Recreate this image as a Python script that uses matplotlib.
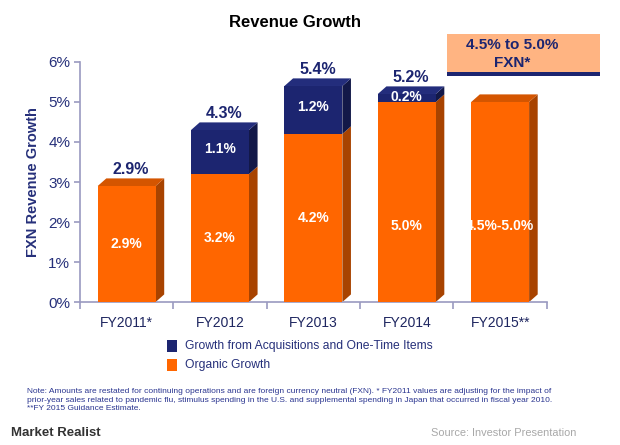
import matplotlib
matplotlib.use("Agg")
import matplotlib.pyplot as plt
from matplotlib.patches import Polygon, Rectangle

plt.rcParams["font.family"] = ["Liberation Sans", "DejaVu Sans"]

categories = ["FY2011*", "FY2012", "FY2013", "FY2014", "FY2015**"]
organic = [2.9, 3.2, 4.2, 5.0, 5.0]
acquisitions = [0.0, 1.1, 1.2, 0.2, 0.0]
organic_labels = ["2.9%", "3.2%", "4.2%", "5.0%", "4.5%-5.0%"]
acq_labels = ["", "1.1%", "1.2%", "0.2%", ""]
total_labels = ["2.9%", "4.3%", "5.4%", "5.2%", ""]
yticks = [0, 1, 2, 3, 4, 5, 6]
ytick_labels = ["0%", "1%", "2%", "3%", "4%", "5%", "6%"]

NAVY = "#1C2570"
NAVY_SIDE = "#121848"
NAVY_TOP = "#232D7C"
ORANGE = "#FF6600"
ORANGE_SIDE = "#A84300"
ORANGE_TOP = "#D45500"
AXIS = "#9A9AC0"
TEXT = "#26307A"

fig = plt.figure(figsize=(6.2, 4.45), dpi=100)
ax = fig.add_axes([0.129, 0.3213, 0.753, 0.5394])
ax.set_xlim(-0.5, 4.5)
ax.set_ylim(0, 6)

w = 0.62
dx = 0.092
dy = 0.19


def box3d(x, y0, y1, front, side, top, draw_top=True):
    left = x - w / 2
    right = x + w / 2
    ax.add_patch(Rectangle((left, y0), w, y1 - y0, facecolor=front, edgecolor="none", zorder=3))
    ax.add_patch(Polygon([(right, y0), (right + dx, y0 + dy), (right + dx, y1 + dy), (right, y1)],
                         closed=True, facecolor=side, edgecolor="none", zorder=2))
    if draw_top:
        ax.add_patch(Polygon([(left, y1), (left + dx, y1 + dy), (right + dx, y1 + dy), (right, y1)],
                             closed=True, facecolor=top, edgecolor="none", zorder=2))


for i, (o, a) in enumerate(zip(organic, acquisitions)):
    box3d(i, 0, o, ORANGE, ORANGE_SIDE, ORANGE_TOP, draw_top=(a == 0))
    if a > 0:
        box3d(i, o, o + a, NAVY, NAVY_SIDE, NAVY_TOP)
    ypos = o / 2 if o < 5 else 1.9
    ax.text(i, ypos, organic_labels[i], ha="center", va="center", color="white",
            fontsize=10, fontweight="bold", zorder=5)
    if acq_labels[i]:
        ax.text(i, o + a / 2 + (0.07 if a > 0.5 else 0.03), acq_labels[i], ha="center", va="center",
                color="white", fontsize=10, fontweight="bold", zorder=5)
    if total_labels[i]:
        ax.text(i + dx / 2, o + a + 0.42, total_labels[i], ha="center", va="center",
                color=NAVY, fontsize=11.5, fontweight="bold", zorder=5)

# Axes styling
for s in ["top", "right"]:
    ax.spines[s].set_visible(False)
ax.spines["left"].set_color(AXIS)
ax.spines["bottom"].set_color(AXIS)
ax.spines["left"].set_linewidth(1.2)
ax.spines["bottom"].set_linewidth(1.2)
ax.set_yticks(yticks)
ax.set_yticklabels(ytick_labels, color=TEXT, fontsize=11)
ax.tick_params(axis="y", colors=AXIS, length=4, width=1.2, labelcolor=TEXT, pad=3)
ax.set_xticks([k - 0.5 for k in range(len(categories) + 1)])
ax.set_xticklabels([])
ax.set_xticks(list(range(len(categories))), minor=True)
ax.set_xticklabels(categories, minor=True, color="#1E2660", fontsize=10)
ax.tick_params(axis="x", which="major", colors=AXIS, length=5, width=1.2)
ax.tick_params(axis="x", which="minor", length=0, pad=10, labelcolor="#1E2660")
ax.set_ylabel("FXN Revenue Growth", color=TEXT, fontsize=10.5, fontweight="bold")
ax.yaxis.set_label_coords(-0.086, 0.5)

# Title
fig.text(0.476, 0.949, "Revenue Growth", ha="center", va="center", fontsize=12,
         fontweight="bold", color="black")

# Guidance box
fig.patches.append(Rectangle((447 / 620, 1 - 72 / 445), 153 / 620, 38 / 445,
                             transform=fig.transFigure, facecolor="#FFB482", edgecolor="none"))
fig.patches.append(Rectangle((447 / 620, 1 - 76 / 445), 153 / 620, 4 / 445,
                             transform=fig.transFigure, facecolor=NAVY, edgecolor="none"))
fig.text(512 / 620, 1 - 54 / 445, "4.5% to 5.0%\nFXN*", ha="center", va="center",
         fontsize=11, fontweight="bold", color=NAVY, linespacing=1.3)

# Legend
fig.patches.append(Rectangle((167 / 620, 1 - 352 / 445), 10 / 620, 12 / 445,
                             transform=fig.transFigure, facecolor=NAVY, edgecolor="none"))
fig.patches.append(Rectangle((167 / 620, 1 - 371 / 445), 10 / 620, 12 / 445,
                             transform=fig.transFigure, facecolor=ORANGE, edgecolor="none"))
fig.text(185 / 620, 1 - 346 / 445, "Growth from Acquisitions and One-Time Items",
         ha="left", va="center", fontsize=8.7, color=TEXT)
fig.text(185 / 620, 1 - 365 / 445, "Organic Growth", ha="left", va="center",
         fontsize=8.7, color=TEXT)

# Note
note = ("Note: Amounts are restated for continuing operations and are foreign currency neutral (FXN). "
        "* FY2011 values are adjusting for the impact of\n"
        "prior-year sales related to pandemic flu, stimulus spending in the U.S. and supplemental "
        "spending in Japan that occurred in fiscal year 2010.\n"
        "**FY 2015 Guidance Estimate.")
fig.text(27 / 620, 1 - 400 / 445, note, ha="left", va="center", fontsize=6.05,
         color="#2A3590", linespacing=1.25)

# Footer
fig.text(11 / 620, 1 - 433 / 445, "Market Realist", ha="left", va="center", fontsize=9.5,
         color="#333333", fontweight="bold")
fig.text(576 / 620, 1 - 433 / 445, "Source: Investor Presentation", ha="right", va="center",
         fontsize=7.9, color="#A8A8A8")

fig.savefig("out.png", dpi=100)
